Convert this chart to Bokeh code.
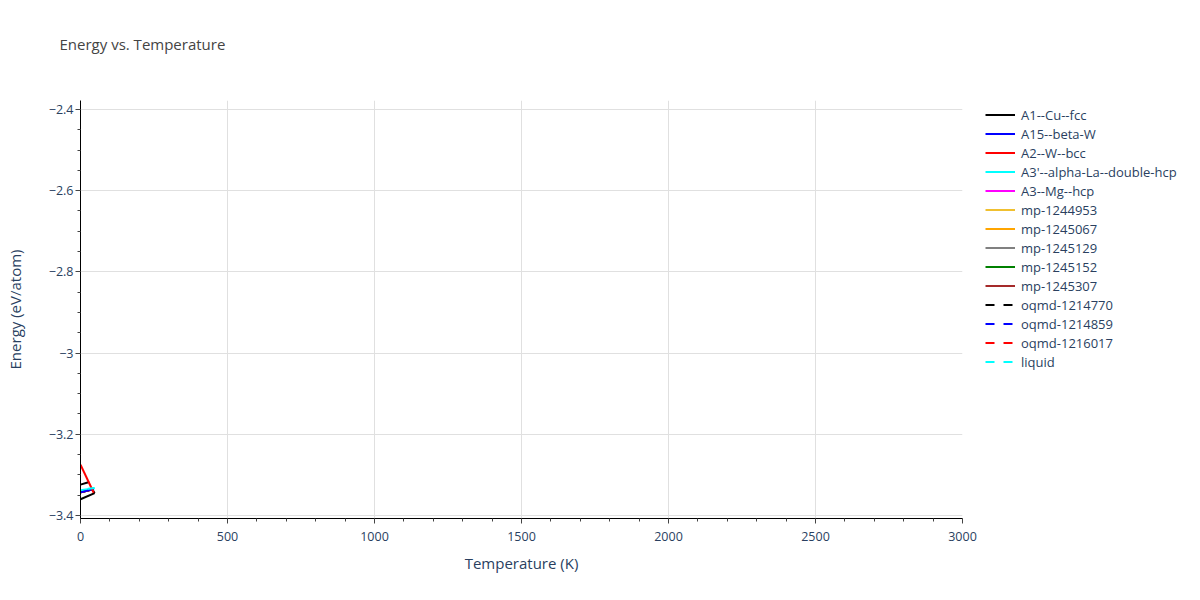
from bokeh.plotting import figure
from bokeh.layouts import row
from bokeh.models import (Range1d, SingleIntervalTicker, CustomJSTickFormatter,
                          Legend, LegendItem, Title)
from bokeh.embed import file_html
from bokeh.resources import INLINE

# series names in legend order
names = ["A1--Cu--fcc", "A15--beta-W", "A2--W--bcc", "A3'--alpha-La--double-hcp",
         "A3--Mg--hcp", "mp-1244953", "mp-1245067", "mp-1245129", "mp-1245152",
         "mp-1245307", "oqmd-1214770", "oqmd-1214859", "oqmd-1216017", "liquid"]
colors = ["black", "blue", "red", "cyan", "magenta", "#f0c030", "orange", "grey",
          "green", "brown", "black", "blue", "red", "cyan"]
dashes = ["solid"] * 10 + ["9 9"] * 4

# temperature (K) and energy (eV/atom)
temps = {
    "A1--Cu--fcc": [0, 48],
    "A15--beta-W": [0, 45],
    "A2--W--bcc": [0, 45],
    "A3'--alpha-La--double-hcp": [0, 48],
    "A3--Mg--hcp": [0, 45],
    "mp-1244953": [0, 45],
    "mp-1245067": [0, 45],
    "mp-1245129": [0, 45],
    "mp-1245152": [0, 45],
    "mp-1245307": [0, 45],
    "oqmd-1214770": [0, 27, 48],
    "oqmd-1214859": [0, 45],
    "oqmd-1216017": [0, 45],
    "liquid": [25, 48],
}
energies = {
    "A1--Cu--fcc": [-3.360, -3.345],
    "A15--beta-W": [-3.343, -3.335],
    "A2--W--bcc": [-3.275, -3.344],
    "A3'--alpha-La--double-hcp": [-3.338, -3.333],
    "A3--Mg--hcp": [-3.343, -3.335],
    "mp-1244953": [-3.343, -3.335],
    "mp-1245067": [-3.343, -3.335],
    "mp-1245129": [-3.343, -3.335],
    "mp-1245152": [-3.343, -3.335],
    "mp-1245307": [-3.343, -3.335],
    "oqmd-1214770": [-3.324, -3.318, -3.345],
    "oqmd-1214859": [-3.343, -3.335],
    "oqmd-1216017": [-3.343, -3.335],
    "liquid": [-3.334, -3.332],
}

FONT = "Open Sans"
TXT = "#2a3f5f"

p = figure(width=980, height=584, output_backend="svg", toolbar_location=None,
           x_range=Range1d(0, 3000), y_range=Range1d(-3.4074, -2.378),
           min_border_left=80, min_border_right=18, min_border_top=100,
           min_border_bottom=66, title="Energy vs. Temperature")
p.outline_line_color = None

p.title.text_font = FONT
p.title.text_font_size = "15px"
p.title.text_font_style = "normal"
p.title.text_color = "#444444"
p.title.align = "left"
p.title.offset = -21
p.title.standoff = 0
# empty spacer title between the real title and the plot area
p.add_layout(Title(text=" ", text_font_size="1px", standoff=44), "above")

# hidden-under series first, visible ones on top
order = [4, 5, 6, 7, 8, 9, 11, 12, 3, 1, 0, 10, 2, 13]
for i in order:
    n = names[i]
    p.line(temps[n], energies[n], line_color=colors[i], line_width=2,
           line_dash=dashes[i])

p.xaxis.ticker = SingleIntervalTicker(interval=500, num_minor_ticks=5)
p.yaxis.ticker = SingleIntervalTicker(interval=0.2, num_minor_ticks=4)
p.yaxis.formatter = CustomJSTickFormatter(code="""
    var v = Math.round(Math.abs(tick) * 10) / 10;
    return (tick < -1e-9 ? '\u2212' : '') + v;
""")

for ax in (p.xaxis, p.yaxis):
    ax.axis_line_color = "black"
    ax.major_tick_line_color = "#444444"
    ax.minor_tick_line_color = "#444444"
    ax.major_tick_out = 5
    ax.major_tick_in = 0
    ax.minor_tick_out = 3
    ax.minor_tick_in = 0
    ax.major_label_text_font = FONT
    ax.major_label_text_font_size = "12.5px"
    ax.major_label_text_color = TXT
    ax.axis_label_text_font = FONT
    ax.axis_label_text_font_size = "15px"
    ax.axis_label_text_font_style = "normal"
    ax.axis_label_text_color = TXT

p.xaxis.axis_label = "Temperature (K)"
p.yaxis.axis_label = "Energy (eV/atom)"
p.xaxis.major_label_standoff = 8
p.yaxis.major_label_standoff = 2
p.xaxis.axis_label_standoff = 9
p.yaxis.axis_label_standoff = 21

p.xgrid.grid_line_color = "#e0e0e0"
p.ygrid.grid_line_color = "#e0e0e0"

# legend lives in its own narrow figure to the right of the chart;
# its lines use the same data, which falls outside this figure's ranges
lg = figure(width=204, height=584, output_backend="svg", toolbar_location=None,
            x_axis_type=None, y_axis_type=None, min_border=0,
            x_range=Range1d(0, 1), y_range=Range1d(0, 1))
lg.outline_line_color = None
lg.grid.visible = False
items = []
for i, n in enumerate(names):
    r = lg.line(temps[n], energies[n], line_color=colors[i], line_width=2,
                line_dash=dashes[i])
    items.append(LegendItem(label=n, renderers=[r]))

legend = Legend(items=items, location="top_left")
legend.margin = 0
legend.padding = 5
legend.spacing = 0
legend.glyph_width = 30
legend.glyph_height = 19
legend.label_height = 19
legend.label_standoff = 6
legend.label_text_font = FONT
legend.label_text_font_size = "13px"
legend.label_text_color = TXT
legend.border_line_alpha = 0
legend.background_fill_alpha = 0
lg.add_layout(legend, "center")

layout = row(p, lg)
open("out.html", "w").write(file_html(layout, INLINE))
